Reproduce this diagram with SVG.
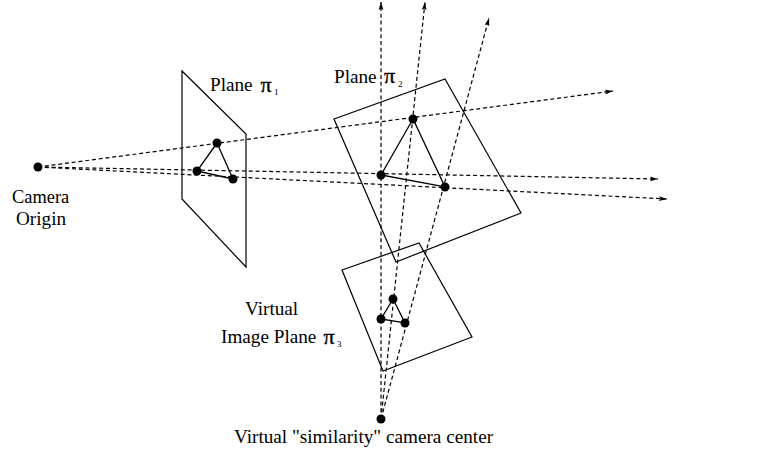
<svg xmlns="http://www.w3.org/2000/svg" width="766" height="459" viewBox="0 0 766 459">
<style>
.bg{fill:#fff}
.pl{fill:none;stroke:#000;stroke-width:1.2}
.tri{fill:none;stroke:#000;stroke-width:1.3}
.ray{fill:none;stroke:#000;stroke-width:1.2;stroke-dasharray:4 2.8}
.head{fill:#000}
.d{fill:#000}
text{font-family:"Liberation Serif","Times New Roman",serif;font-size:19.2px;fill:#000}
.sym{font-family:"Liberation Serif",serif;font-size:22px;stroke:#000;stroke-width:0.35}
.sub{font-size:9px}
.cam{font-size:18.4px}
</style>
<defs>
<marker id="ah" markerUnits="userSpaceOnUse" markerWidth="10" markerHeight="6" refX="8" refY="3" orient="auto"><path class="head" d="M0 0.6L8 3L0 5.4L1.5 3Z"/></marker>
</defs>
<rect class="bg" width="766" height="459"/>
<g id="connectors">
<line class="ray" x1="38" y1="167" x2="613" y2="91" marker-end="url(#ah)"/>
<line class="ray" x1="38" y1="167" x2="658" y2="179" marker-end="url(#ah)"/>
<line class="ray" x1="38" y1="167" x2="667" y2="199" marker-end="url(#ah)"/>
<line class="ray" x1="381" y1="419" x2="381" y2="2" marker-end="url(#ah)"/>
<line class="ray" x1="381" y1="419" x2="425" y2="2" marker-end="url(#ah)"/>
<line class="ray" x1="381" y1="419" x2="489" y2="18" marker-end="url(#ah)"/>
</g>
<g id="plane1">
<path class="pl" d="M182 71L246 134V267L182 199Z"/>
<path class="tri" d="M217 143L197 171L233 179Z"/>
<circle class="d" cx="217" cy="143" r="4.5"/><circle class="d" cx="197" cy="171" r="4.5"/><circle class="d" cx="233" cy="179" r="4.5"/>
<text x="210" y="91">Plane</text><text class="sym" x="260.500" y="92">π</text><text class="sub" x="274" y="95">1</text>
</g>
<g id="plane2">
<path class="pl" d="M334 119L445 79L521 213L396 262Z"/>
<path class="tri" d="M413 119L381 175L445 187Z"/>
<circle class="d" cx="413" cy="119" r="4.5"/><circle class="d" cx="381" cy="175" r="4.5"/><circle class="d" cx="445" cy="187" r="4.5"/>
<text x="334" y="83">Plane</text><text class="sym" x="384" y="83">π</text><text class="sub" x="398" y="87">2</text>
</g>
<g id="plane3">
<path class="pl" d="M342 270L419 243L472 337L383 371Z"/>
<path class="tri" d="M393 299L381 319L405 323Z"/>
<circle class="d" cx="393" cy="299" r="4.5"/><circle class="d" cx="381" cy="319" r="4.5"/><circle class="d" cx="405" cy="323" r="4.5"/>
<text x="245" y="315">Virtual</text>
<text x="221" y="343">Image Plane</text><text class="sym" x="323.500" y="344">π</text><text class="sub" x="337" y="347">3</text>
</g>
<g id="camera-origin">
<circle class="d" cx="38" cy="167" r="4.5"/>
<text class="cam" x="12" y="203">Camera</text>
<text x="16" y="225">Origin</text>
</g>
<g id="similarity-center">
<circle class="d" cx="381" cy="419" r="4.5"/>
<text x="234" y="443">Virtual "similarity" camera center</text>
</g>
</svg>
